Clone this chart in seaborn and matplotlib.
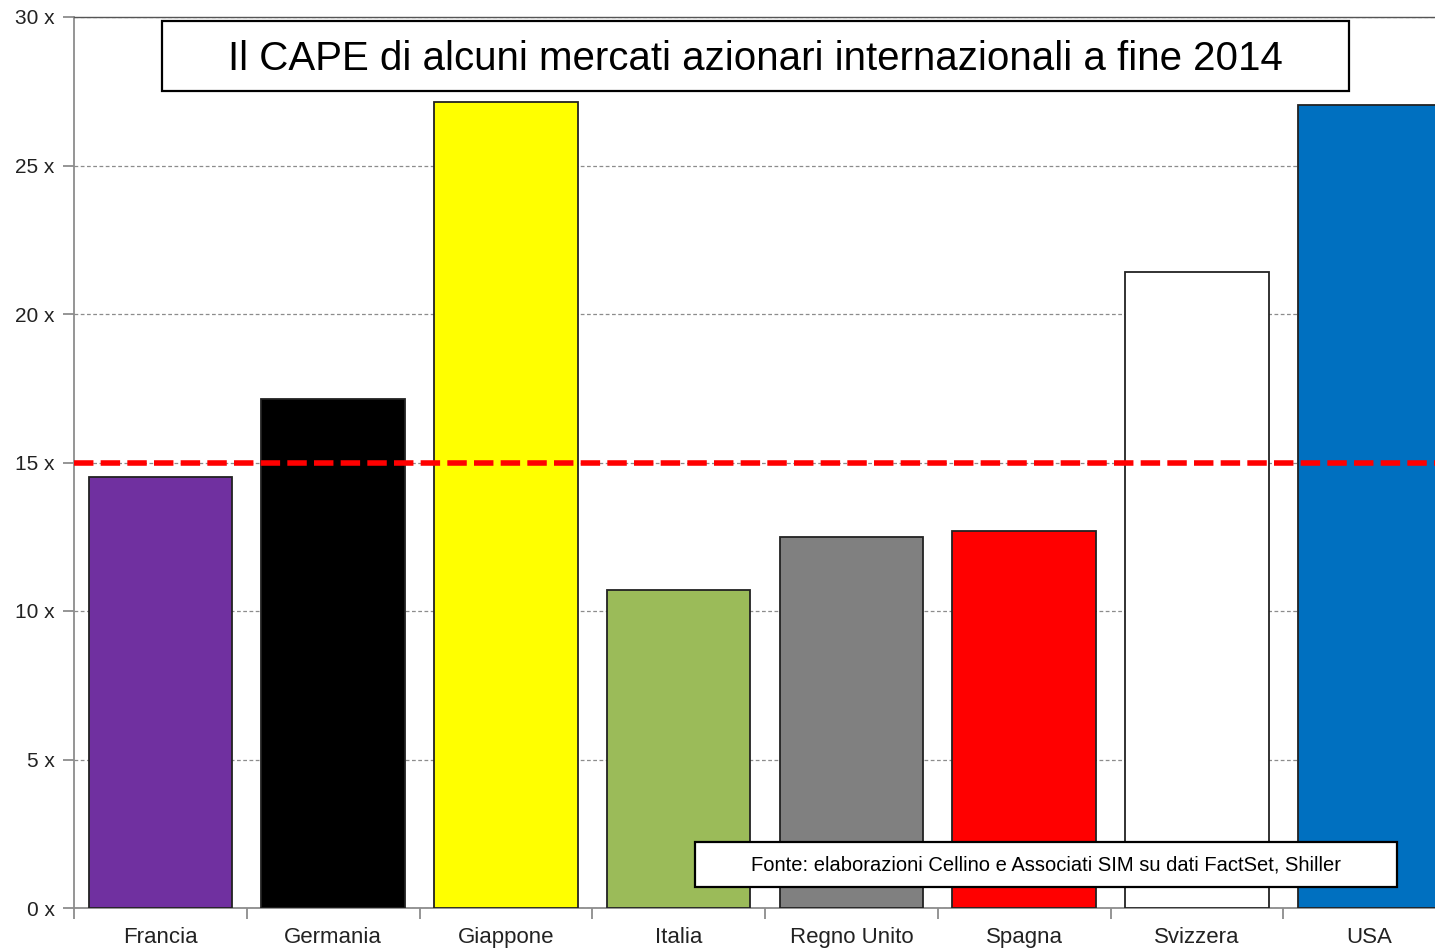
import matplotlib
matplotlib.use("Agg")
from matplotlib import pyplot as plt
from matplotlib.patches import Rectangle
from matplotlib.ticker import FuncFormatter, FixedLocator
import seaborn as sns
import pandas as pd

paesi = ["Francia", "Germania", "Giappone", "Italia", "Regno Unito", "Spagna", "Svizzera", "USA"]
cape = [14.5, 17.15, 27.15, 10.7, 12.5, 12.7, 21.4, 27.05]
colori = ["#7030A0", "#000000", "#FFFF00", "#9BBB59", "#808080", "#FF0000", "#FFFFFF", "#0070C0"]
media_storica = 15
titolo = "Il CAPE di alcuni mercati azionari internazionali a fine 2014"
fonte = "Fonte: elaborazioni Cellino e Associati SIM su dati FactSet, Shiller"

sns.set_style("white")
plt.rcParams["font.family"] = ["Liberation Sans", "DejaVu Sans"]

df = pd.DataFrame({"paese": paesi, "cape": cape})

fig = plt.figure(figsize=(14.35, 9.48), dpi=100)
W, H = 1435, 948
ax = fig.add_axes([74 / W, 1 - 908 / H, (1456 - 74) / W, (908 - 17) / H])

sns.barplot(data=df, x="paese", y="cape", hue="paese", palette=colori, saturation=1,
            width=0.83, edgecolor="#222222", linewidth=1.3, legend=False, ax=ax, zorder=3)

ax.set_xlim(-0.5, 7.5)
ax.set_ylim(0, 30)
ax.set_yticks(range(0, 31, 5))
ax.yaxis.set_major_formatter(FuncFormatter(lambda v, p: f"{int(v)} x"))
ax.set_xlabel("")
ax.set_ylabel("")

ax.grid(axis="y", linestyle=(0, (3, 2)), color="#8c8c8c", linewidth=0.9, zorder=0)
ax.set_axisbelow(True)

# linea tratteggiata rossa: media storica del CAPE
ax.axhline(media_storica, color="#FF0000", linewidth=4, dashes=(3.5, 1.3), zorder=4)

ax.spines["right"].set_visible(False)
ax.spines["top"].set_color("#555555")
ax.spines["top"].set_linewidth(1.0)
for s in ["left", "bottom"]:
    ax.spines[s].set_color("#8c8c8c")
    ax.spines[s].set_linewidth(1.3)

ax.tick_params(axis="y", which="major", length=8, width=1.3, color="#8c8c8c",
               labelsize=15, labelcolor="#222222", pad=6, left=True)
ax.tick_params(axis="x", which="major", length=0, labelsize=16, labelcolor="#222222", pad=14)
ax.xaxis.set_minor_locator(FixedLocator([i - 0.5 for i in range(9)]))
ax.tick_params(axis="x", which="minor", length=8, width=1.3, color="#8c8c8c", bottom=True)

fig.patches.append(Rectangle((162 / W, 1 - 91 / H), (1349 - 162) / W, 70 / H,
                             transform=fig.transFigure, facecolor="white",
                             edgecolor="black", linewidth=1.6, zorder=5))
fig.text(755.5 / W, 1 - 59 / H, titolo, ha="center", va="center", fontsize=29,
         color="black", zorder=6)

fig.patches.append(Rectangle((695 / W, 1 - 887 / H), (1397 - 695) / W, 45 / H,
                             transform=fig.transFigure, facecolor="white",
                             edgecolor="black", linewidth=1.6, zorder=5))
fig.text(1046 / W, 1 - 865 / H, fonte, ha="center", va="center", fontsize=14.5,
         color="black", zorder=6)

plt.savefig("out.png", dpi=100)
